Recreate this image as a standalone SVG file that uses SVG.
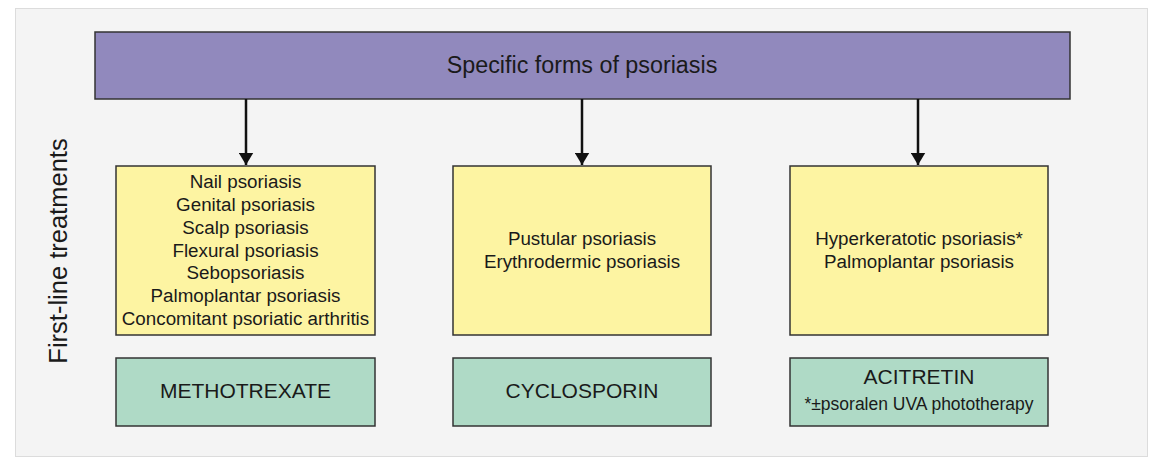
<svg xmlns="http://www.w3.org/2000/svg" width="1153" height="457" viewBox="0 0 1153 457">
<defs>
<style>
.t{font-family:"Liberation Sans",Arial,sans-serif;fill:#1a1a1a;text-anchor:middle}
.y{fill:#fdf4a2;stroke:#333;stroke-width:1.5}
.g{fill:#afdac6;stroke:#333;stroke-width:1.5}
.c{stroke:#111;stroke-width:2.5;fill:none;marker-end:url(#ah)}
</style>
<marker id="ah" markerWidth="6" markerHeight="6" refX="5" refY="3" orient="auto" markerUnits="strokeWidth">
<path d="M0,0 L5,3 L0,6 Z" fill="#111"/>
</marker>
</defs>
<rect width="1153" height="457" fill="#fff"/>
<rect x="15.5" y="8.5" width="1132" height="448" fill="#f4f4f4" stroke="#dcdcdc"/>
<g id="title">
<rect x="95" y="32" width="975" height="67" fill="#9189bd" stroke="#333" stroke-width="1.5"/>
<text class="t" x="582" y="73" font-size="23.3">Specific forms of psoriasis</text>
</g>
<g id="side-label">
<text class="t" transform="translate(67,251) rotate(-90)" font-size="25.5">First-line treatments</text>
</g>
<g id="connectors">
<line class="c" x1="246" y1="99" x2="246" y2="165"/>
<line class="c" x1="582" y1="99" x2="582" y2="165"/>
<line class="c" x1="918" y1="99" x2="918" y2="165"/>
</g>
<g id="forms-mtx">
<rect class="y" x="116" y="166" width="259" height="169"/>
<text class="t" font-size="18.8"><tspan x="245.5" y="188">Nail psoriasis</tspan><tspan x="245.5" y="211">Genital psoriasis</tspan><tspan x="245.5" y="234">Scalp psoriasis</tspan><tspan x="245.5" y="257">Flexural psoriasis</tspan><tspan x="245.5" y="279">Sebopsoriasis</tspan><tspan x="245.5" y="302">Palmoplantar psoriasis</tspan><tspan x="245.5" y="325">Concomitant psoriatic arthritis</tspan></text>
</g>
<g id="forms-csa">
<rect class="y" x="453" y="166" width="258" height="169"/>
<text class="t" font-size="18.8"><tspan x="582" y="245">Pustular psoriasis</tspan><tspan x="582" y="268">Erythrodermic psoriasis</tspan></text>
</g>
<g id="forms-aci">
<rect class="y" x="790" y="166" width="258" height="169"/>
<text class="t" font-size="18.8"><tspan x="919" y="245">Hyperkeratotic psoriasis*</tspan><tspan x="919" y="268">Palmoplantar psoriasis</tspan></text>
</g>
<g id="mtx">
<rect class="g" x="116" y="358" width="259" height="68"/>
<text class="t" x="245.5" y="398" font-size="21">METHOTREXATE</text>
</g>
<g id="csa">
<rect class="g" x="453" y="358" width="258" height="68"/>
<text class="t" x="582" y="398" font-size="21">CYCLOSPORIN</text>
</g>
<g id="aci">
<rect class="g" x="790" y="358" width="258" height="68"/>
<text class="t" x="919" y="384" font-size="21">ACITRETIN</text>
<text class="t" x="919" y="410" font-size="17.5">*±psoralen UVA phototherapy</text>
</g>
</svg>
